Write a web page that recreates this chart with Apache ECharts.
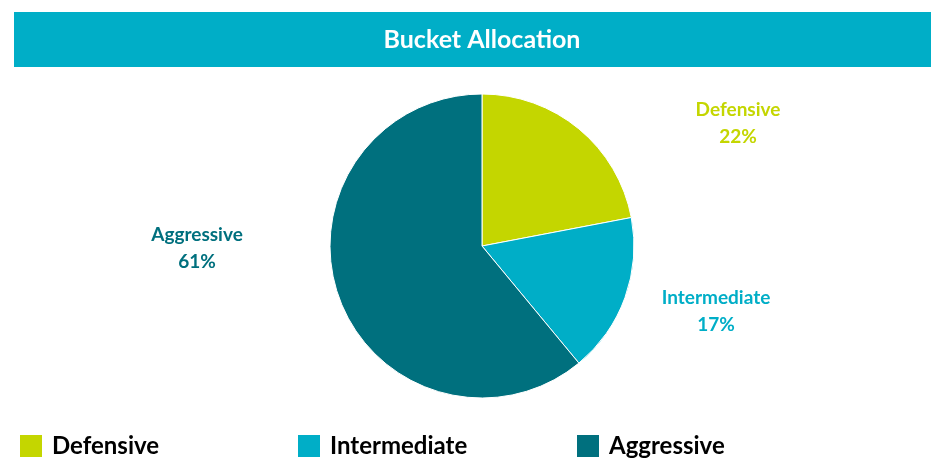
<!DOCTYPE html>
<html>
<head>
<meta charset="utf-8">
<script src="https://cdn.jsdelivr.net/npm/echarts@6/dist/echarts.min.js"></script>
<style>
html,body{margin:0;padding:0;background:#fff;}
#c{width:931px;height:458px;}
</style>
</head>
<body>
<div id="c"></div>
<script>
const categories = ['Defensive', 'Intermediate', 'Aggressive'];
const values = [22, 17, 61];
const colors = ['#C4D600', '#00AEC7', '#00707E'];
const titleText = 'Bucket Allocation';

const labelPos = [[738, 123], [716, 311], [197, 248]];
const legendLeft = [18, 296, 575];

const chart = echarts.init(document.getElementById('c'), null, {renderer: 'canvas'});
const FONT = 'Lato, "Open Sans", sans-serif';

chart.setOption({
  animation: false,
  graphic: [{
    type: 'rect',
    shape: {x: 14, y: 12, width: 917, height: 55},
    style: {fill: '#00AEC7'},
    z: 0
  }],
  title: {
    text: titleText,
    left: 477,
    top: 22,
    textAlign: 'center',
    textStyle: {color: '#fff', fontFamily: FONT, fontWeight: 'bold', fontSize: 25}
  },
  legend: categories.map((n, i) => ({
    data: [n],
    left: legendLeft[i],
    top: 433,
    padding: 0,
    itemWidth: 24,
    itemHeight: 24,
    itemGap: 10,
    icon: 'rect',
    selectedMode: false,
    textStyle: {color: '#000', fontFamily: FONT, fontWeight: 'bold', fontSize: 24, padding: [3, 0, 0, 4]}
  })),
  series: [{
    type: 'pie',
    center: [482, 246],
    radius: 152,
    startAngle: 90,
    clockwise: true,
    silent: true,
    itemStyle: {borderColor: '#fff', borderWidth: 1},
    data: categories.map((n, i) => ({
      name: n,
      value: values[i],
      itemStyle: {color: colors[i]},
      label: {color: colors[i]}
    })),
    label: {
      show: true,
      position: 'outside',
      formatter: p => p.name + '\n' + p.value + '%',
      fontFamily: FONT,
      fontWeight: 'bold',
      fontSize: 19,
      lineHeight: 27,
      align: 'center'
    },
    labelLine: {show: false},
    labelLayout: p => ({
      x: labelPos[p.dataIndex][0],
      y: labelPos[p.dataIndex][1],
      align: 'center',
      verticalAlign: 'middle'
    })
  }]
});
</script>
</body>
</html>
